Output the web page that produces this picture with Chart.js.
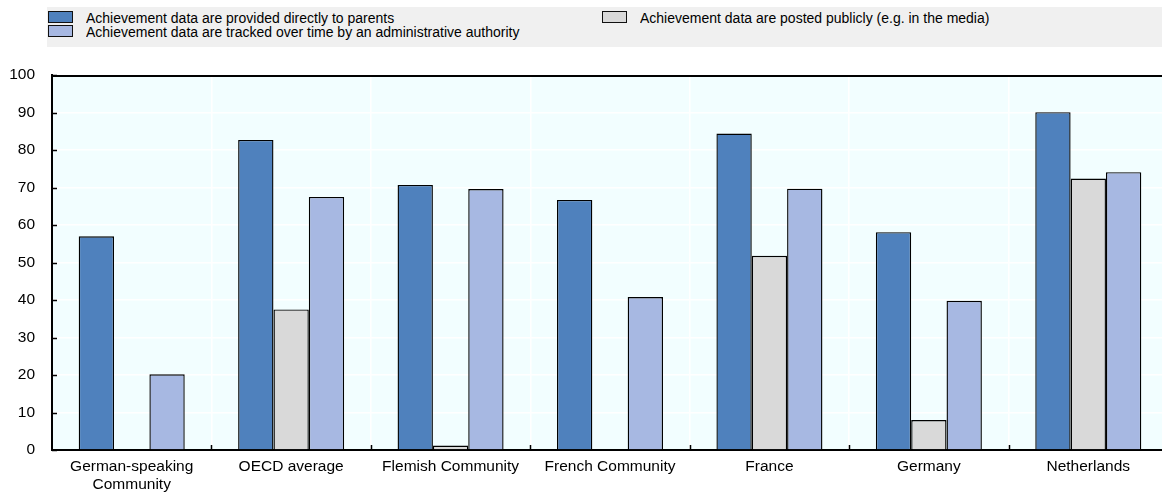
<!DOCTYPE html>
<html>
<head>
<meta charset="utf-8">
<script src="https://cdn.jsdelivr.net/npm/chart.js@4/dist/chart.umd.min.js"></script>
<style>
  html, body { margin: 0; padding: 0; background: #fff; overflow: hidden; }
  #wrap { position: relative; width: 1168px; height: 498px; }
  #legend {
    position: absolute; left: 47px; top: 7px; width: 1121px; height: 40px;
    background: #f0f0f0; font-family: "Liberation Sans", Arial, sans-serif;
    font-size: 14px; color: #000;
  }
  .item { position: absolute; height: 14px; line-height: 14px; white-space: nowrap; }
  .item .box {
    position: absolute; left: 0; top: 1px; width: 25px; height: 12px;
    border: 1px solid #111; box-sizing: border-box;
  }
  .item .txt { position: absolute; left: 38px; top: 0; transform: scaleY(1.1); transform-origin: 0 50%; }
</style>
</head>
<body>
<div id="wrap">
  <canvas id="chart" width="1168" height="498"></canvas>
  <div id="legend"></div>
</div>
<script>
// Chart data
const categories = [
  ['German-speaking', 'Community'],
  'OECD average',
  'Flemish Community',
  'French Community',
  'France',
  'Germany',
  'Netherlands'
];
const seriesNames = [
  'Achievement data are provided directly to parents',
  'Achievement data are posted publicly (e.g. in the media)',
  'Achievement data are tracked over time by an administrative authority'
];
const providedToParents = [57, 82.7, 70.7, 66.7, 84.4, 58.1, 90.1];
const postedPublicly = [null, 37.5, 1.2, null, 51.8, 8.0, 72.4];
const trackedOverTime = [20.2, 67.5, 69.6, 40.8, 69.7, 39.8, 74.1];
const yTicks = [0, 10, 20, 30, 40, 50, 60, 70, 80, 90, 100];

const colors = ['#4f81bd', '#d9d9d9', '#a7b8e2'];

// HTML legend: two columns like the original
const legendPos = [
  { left: 1, top: 3 },
  { left: 555, top: 3 },
  { left: 1, top: 17 }
];
const legendEl = document.getElementById('legend');
seriesNames.forEach(function(name, i) {
  const item = document.createElement('div');
  item.className = 'item';
  item.style.left = legendPos[i].left + 'px';
  item.style.top = legendPos[i].top + 'px';
  item.innerHTML = '<span class="box" style="background:' + colors[i] + '"></span>' +
    '<span class="txt"></span>';
  item.querySelector('.txt').textContent = name;
  legendEl.appendChild(item);
});

// plot background, top border and inner tick marks
const frame = {
  id: 'frame',
  beforeDraw(chart) {
    const a = chart.chartArea;
    const ctx = chart.ctx;
    ctx.save();
    ctx.fillStyle = '#f2feff';
    ctx.fillRect(a.left, a.top, a.right - a.left, a.bottom - a.top);
    ctx.restore();
  },
  afterDraw(chart) {
    const a = chart.chartArea;
    const ctx = chart.ctx;
    const y = chart.scales.y;
    const x = chart.scales.x;
    ctx.save();
    ctx.strokeStyle = '#000';
    ctx.lineWidth = 2;
    ctx.beginPath();
    ctx.moveTo(a.left - 1, a.top + 1);
    ctx.lineTo(a.right, a.top + 1);
    ctx.stroke();
    ctx.lineWidth = 1.5;
    ctx.beginPath();
    yTicks.forEach(function(v) {
      const py = Math.round(y.getPixelForValue(v)) + 0.5;
      ctx.moveTo(a.left, py);
      ctx.lineTo(a.left + 5, py);
    });
    for (let i = 1; i < categories.length; i++) {
      const px = Math.round((x.getPixelForValue(i - 1) + x.getPixelForValue(i)) / 2) + 0.5;
      ctx.moveTo(px, a.bottom);
      ctx.lineTo(px, a.bottom - 5);
    }
    ctx.stroke();
    ctx.restore();
  }
};

const font = { family: '"Liberation Sans", Arial, sans-serif', size: 15.5 };

new Chart(document.getElementById('chart'), {
  type: 'bar',
  data: {
    labels: categories,
    datasets: [
      { label: seriesNames[0], data: providedToParents, backgroundColor: colors[0] },
      { label: seriesNames[1], data: postedPublicly, backgroundColor: colors[1] },
      { label: seriesNames[2], data: trackedOverTime, backgroundColor: colors[2] }
    ].map(function(d) {
      return Object.assign(d, {
        borderColor: '#000', borderWidth: 1.4, borderSkipped: 'bottom',
        categoryPercentage: 0.665, barPercentage: 1
      });
    })
  },
  options: {
    responsive: false,
    animation: false,
    layout: { padding: { top: 75, right: 0, left: 0, bottom: 0 } },
    plugins: {
      legend: { display: false },
      tooltip: { enabled: false }
    },
    scales: {
      x: {
        grid: { color: '#ffffff', lineWidth: 1.5, drawTicks: false, offset: true },
        border: { color: '#000', width: 2 },
        ticks: { color: '#000', font: font, padding: 7, maxRotation: 0, autoSkip: false },
        afterFit(scale) { scale.height = 48; }
      },
      y: {
        min: 0,
        max: 100,
        grid: { color: '#ffffff', lineWidth: 1.5, drawTicks: false },
        border: { color: '#000', width: 2 },
        ticks: { color: '#000', font: font, padding: 17, stepSize: 10 },
        afterBuildTicks(scale) { scale.ticks = yTicks.map(v => ({ value: v })); },
        afterFit(scale) { scale.width = 52; }
      }
    }
  },
  plugins: [frame]
});
</script>
</body>
</html>
